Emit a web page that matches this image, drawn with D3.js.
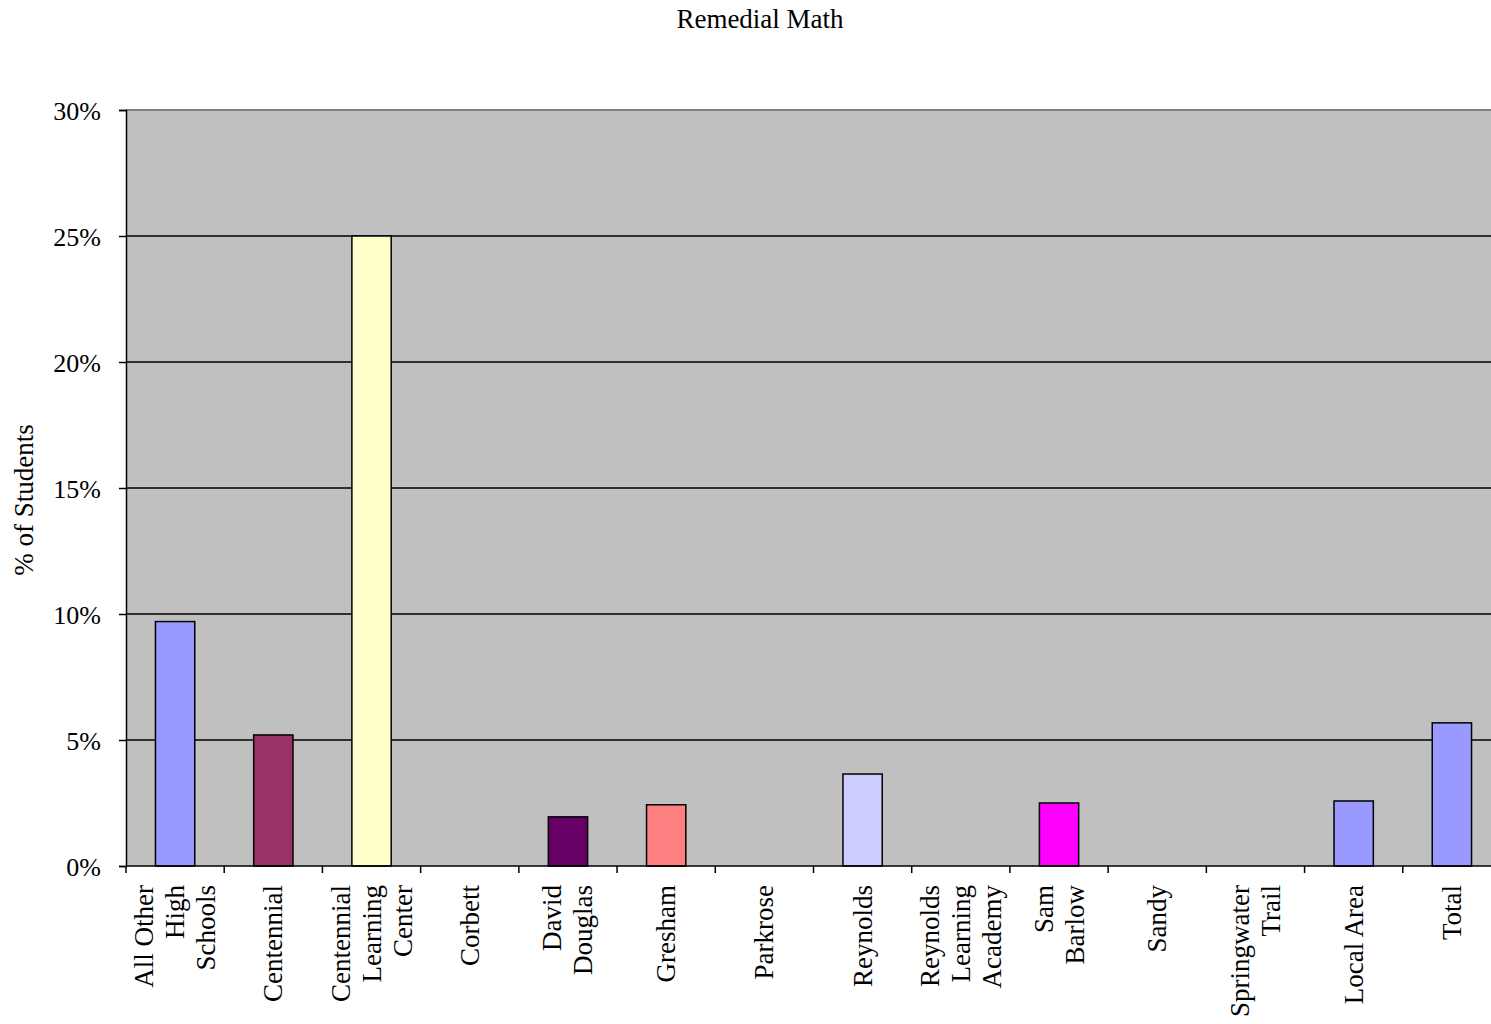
<!DOCTYPE html>
<html><head><meta charset="utf-8">
<script src="https://cdn.jsdelivr.net/npm/d3@7"></script>
<style>body{margin:0;background:#fff;overflow:hidden}svg{display:block}text{font-family:"Liberation Serif","Times New Roman",serif;fill:#000}</style>
</head><body>
<script>
const title = "Remedial Math";
const yAxisTitle = "% of Students";
const categories = ["All Other High Schools","Centennial","Centennial Learning Center","Corbett","David Douglas","Gresham","Parkrose","Reynolds","Reynolds Learning Academy","Sam Barlow","Sandy","Springwater Trail","Local Area","Total"];
const labelLines = [["All Other","High","Schools"],["Centennial"],["Centennial","Learning","Center"],["Corbett"],["David","Douglas"],["Gresham"],["Parkrose"],["Reynolds"],["Reynolds","Learning","Academy"],["Sam","Barlow"],["Sandy"],["Springwater","Trail"],["Local Area"],["Total"]];
const values = [0.097,0.052,0.25,0,0.0195,0.0243,0,0.0365,0,0.025,0,0,0.0258,0.0568];
const colors = ["#9999FF","#993366","#FFFFCC","#9999FF","#660066","#FF8080","#9999FF","#CCCCFF","#9999FF","#FF00FF","#9999FF","#9999FF","#9999FF","#9999FF"];
const yTicks = [0,0.05,0.10,0.15,0.20,0.25,0.30];

(function(){
const W = 1491, H = 1024;
const pL = 126, pR = 1501, pT = 110, pB = 866;
const svg = d3.select("body").append("svg").attr("width", W).attr("height", H);

const x = d3.scaleBand().domain(categories).range([pL, pR]).paddingInner(0.6).paddingOuter(0.3);
const y = d3.scaleLinear().domain([0, 0.30]).range([pB, pT]);

svg.append("rect").attr("x", pL).attr("y", pT).attr("width", pR - pL).attr("height", pB - pT).attr("fill", "#C0C0C0");
svg.append("line").attr("x1", pL).attr("x2", pR).attr("y1", pT).attr("y2", pT).attr("stroke", "#808080").attr("stroke-width", 2);

svg.append("g").selectAll("line").data(yTicks.slice(1, -1)).join("line")
  .attr("x1", pL).attr("x2", pR).attr("y1", d => y(d)).attr("y2", d => y(d))
  .attr("stroke", "#000").attr("stroke-width", 1.5);

svg.append("g").selectAll("rect").data(categories).join("rect")
  .attr("x", d => x(d)).attr("width", x.bandwidth())
  .attr("y", (d, i) => y(values[i])).attr("height", (d, i) => pB - y(values[i]))
  .attr("fill", (d, i) => colors[i]).attr("stroke", "#000").attr("stroke-width", 1.5);

const yAxis = svg.append("g").attr("transform", `translate(${pL},0)`)
  .call(d3.axisLeft(y).tickValues(yTicks).tickFormat(d3.format(".0%")).tickSize(7).tickPadding(18));
yAxis.select(".domain").attr("stroke", "#000").attr("stroke-width", 1.5);
yAxis.selectAll(".tick line").attr("stroke", "#000").attr("stroke-width", 1.5);
yAxis.selectAll(".tick text").attr("font-size", 26).attr("font-family", '"Liberation Serif",serif').attr("fill", "#000").attr("dy", "0.36em");

svg.append("line").attr("x1", pL).attr("x2", pR).attr("y1", pB).attr("y2", pB).attr("stroke", "#000").attr("stroke-width", 1.5);
const step = x.step();
const bounds = d3.range(categories.length + 1).map(i => pL + i * step);
svg.append("g").selectAll("line").data(bounds).join("line")
  .attr("x1", d => d).attr("x2", d => d).attr("y1", pB).attr("y2", pB + 7)
  .attr("stroke", "#000").attr("stroke-width", 1.5);

const lineH = 31;
const lab = svg.append("g").selectAll("text").data(categories).join("text")
  .attr("transform", d => `translate(${x(d) + x.bandwidth() / 2},885) rotate(-90)`)
  .attr("text-anchor", "end").attr("font-size", 27);
lab.each(function(d, i) {
  const lines = labelLines[i];
  const n = lines.length;
  d3.select(this).selectAll("tspan").data(lines).join("tspan")
    .attr("x", 0)
    .attr("y", (l, j) => (j - (n - 1) / 2) * lineH + 9)
    .text(l => l);
});

svg.append("text").attr("x", 760).attr("y", 28).attr("text-anchor", "middle").attr("font-size", 27).text(title);
svg.append("text").attr("transform", "translate(33,500) rotate(-90)").attr("text-anchor", "middle").attr("font-size", 27).text(yAxisTitle);
})();
</script>
</body></html>
